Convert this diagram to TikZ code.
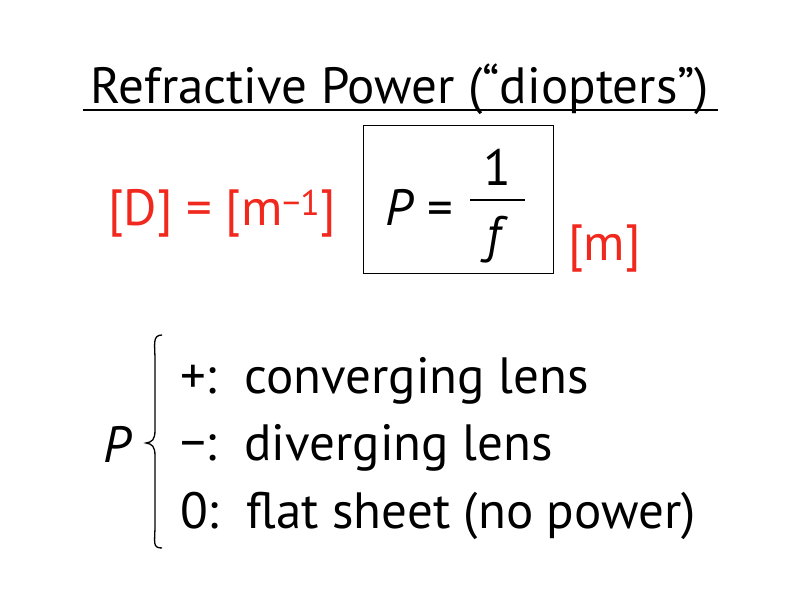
\documentclass[tikz,border=0pt]{standalone}
\usepackage{fontspec}
\setmainfont{PT Sans}
\usepackage{amsmath}
\begin{document}
\begin{tikzpicture}[x=1pt,y=-1pt,
  txt/.style={anchor=base west,inner sep=0pt,font=\fontsize{51}{56}\selectfont},
  red/.style={text={rgb,255:red,240;green,40;blue,30}}]
\useasboundingbox (0,0) rectangle (800,600);
\node[txt,anchor=base] (title) at (400,103) {Refractive Power (“diopters”)};
\draw[line width=2pt] (83,110) -- (718,110);
\node[txt,red] (d) at (108,225) {[D] = [m\textsuperscript{−1}]};
\draw[line width=1pt] (363,125) rectangle (553,273);
\node[txt] (p) at (385,225) {\textit{P} =};
\node[txt,anchor=base] (one) at (497,185) {1};
\draw[line width=1.5pt] (470,200) -- (525,200);
\node[txt,anchor=base] (f) at (497,252) {\textit{f}};
\node[txt,red] (m) at (568,260) {[m]};
\node[txt] (pp) at (103,462) {\textit{P}};
\draw[line width=1.3pt] (162,335) .. controls (152,335) and (155,345) .. (155,360) -- (155,430) .. controls (155,440) and (152,442) .. (146,443) .. controls (152,444) and (155,446) .. (155,456) -- (155,525) .. controls (155,542) and (152,548) .. (162,548);
\node[txt] (l1) at (180,393) {+:\ \ converging lens};
\node[txt] (l2) at (180,460) {−:\ \ diverging lens};
\node[txt] (l3) at (180,528) {0:\ \ flat sheet (no power)};
\end{tikzpicture}
\end{document}
